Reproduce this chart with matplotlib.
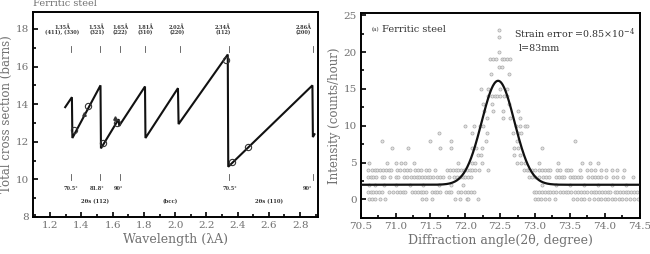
import numpy as np
import matplotlib
matplotlib.use("Agg")
import matplotlib.pyplot as plt
from matplotlib.ticker import MultipleLocator

plt.rcParams['font.family'] = ['DejaVu Serif']
plt.rcParams['mathtext.fontset'] = 'dejavuserif'

# ---------------- left panel data: Bragg-edge sawtooth ----------------
edge_wl = [1.296, 1.339, 1.342, 1.522, 1.525, 1.638, 1.642, 1.807, 1.810,
           2.018, 2.022, 2.337, 2.340, 2.879, 2.882, 2.892]
edge_xs = [13.84, 14.37, 12.20, 15.00, 11.65, 13.20, 12.85, 14.94, 12.20,
           14.85, 12.94, 16.64, 10.67, 15.00, 12.25, 12.40]
meas_wl = [1.352, 1.445, 1.537, 1.630, 2.325, 2.365, 2.465]
meas_xs = [12.60, 13.90, 11.95, 13.00, 16.35, 10.95, 11.70]
small_wl = [1.415, 1.618]
small_xs = [13.50, 13.25]

top_labels = ["1.35Å\n(411), (330)", "1.53Å\n(321)", "1.65Å\n(222)", "1.81Å\n(310)",
              "2.02Å\n(220)", "2.34Å\n(112)", "2.86Å\n(200)"]
top_label_x = [1.275, 1.498, 1.647, 1.810, 2.010, 2.307, 2.820]
top_tick_x = [1.334, 1.520, 1.647, 1.810, 2.030, 2.345, 2.880]

bot_angles = ["70.5°", "81.8°", "90°", "70.5°", "90°"]
bot_tick_x = [1.334, 1.520, 1.647, 2.345, 2.880]
bot_label_x = [1.330, 1.500, 1.640, 2.350, 2.850]
group_labels = ["2θs (112)", "(bcc)", "2θs (110)"]
group_x = [1.490, 1.967, 2.600]

# ---------------- right panel data: diffraction peak ----------------
cnt0 = [70.62, 70.66, 70.70, 70.78, 70.85, 71.38, 71.44, 71.52, 71.85, 71.92, 72.02,
        72.04, 72.18, 73.00, 73.04, 73.08, 73.14, 73.20, 73.28, 73.55, 73.60, 73.66, 73.70,
        73.78, 73.84, 73.90, 73.95, 74.00, 74.05, 74.10, 74.14, 74.20, 74.25,
        74.30, 74.36, 74.42, 74.47]
cnt1 = [70.60, 70.64, 70.68, 70.72, 70.76, 70.80, 70.90, 70.96, 71.02, 71.06, 71.10,
        71.14, 71.24, 71.28, 71.32, 71.36, 71.40, 71.44, 71.52, 71.56, 71.60, 71.64,
        71.72, 71.76, 71.80, 71.90, 71.94, 72.00, 72.04, 72.08, 72.12,
        72.98, 73.02, 73.06, 73.10, 73.14, 73.18, 73.22, 73.26, 73.30, 73.36, 73.40,
        73.44, 73.48, 73.52, 73.58, 73.62, 73.66, 73.70, 73.74, 73.80, 73.84, 73.88,
        73.92, 73.96, 74.00, 74.04, 74.08, 74.14, 74.18, 74.22, 74.26, 74.30, 74.34,
        74.38, 74.42, 74.46]
cnt2 = [70.62, 70.70, 70.84, 71.00, 71.20, 71.40, 71.62, 71.80, 71.96, 73.10,
        73.30, 73.50, 73.70, 73.90, 74.10, 74.30]
cnt3 = [70.60, 70.64, 70.68, 70.72, 70.80, 70.84, 70.92, 71.00, 71.04, 71.12, 71.16,
        71.22, 71.26, 71.30, 71.34, 71.38, 71.42, 71.46, 71.50, 71.54, 71.60, 71.64,
        71.68, 71.76, 71.84, 71.88, 71.92, 71.96, 72.00, 72.04, 72.08,
        72.92, 72.96, 73.00, 73.06, 73.12, 73.16, 73.20, 73.30, 73.34, 73.38, 73.42,
        73.50, 73.54, 73.58, 73.62, 73.66, 73.76, 73.82, 73.86, 73.90, 73.94,
        74.02, 74.12, 74.18, 74.26, 74.40]
cnt4 = [70.60, 70.66, 70.70, 70.74, 70.78, 70.82, 70.86, 70.90, 70.94, 71.02,
        71.06, 71.12, 71.16, 71.20, 71.28, 71.32, 71.36, 71.44, 71.48, 71.56,
        71.74, 71.78, 71.82, 71.86, 71.90, 71.94, 71.98, 72.02, 72.06, 72.10, 72.14,
        72.20, 72.33, 72.84, 72.88, 72.92, 72.96, 73.00, 73.06, 73.10, 73.14, 73.18,
        73.22, 73.32, 73.36, 73.44, 73.48, 73.52, 73.64, 73.74, 73.80, 73.86, 73.94,
        74.02, 74.10, 74.18, 74.28]
cnt5 = [70.62, 70.88, 71.00, 71.08, 71.14, 71.26, 71.90, 72.10, 72.14, 72.24,
        72.74, 72.80, 72.86, 73.05, 73.33, 73.67, 73.79, 73.90]
cnt6 = [72.18, 72.23, 72.70, 72.78]
cnt7 = [70.95, 71.18, 71.64, 71.79, 72.10, 72.16, 72.24, 72.70, 72.76, 73.10]
cnt8 = [70.80, 71.50, 71.80, 72.30, 72.74, 73.57]
cnt9 = [71.62, 72.10, 72.31, 72.69, 72.76, 72.80]
cnt10 = [72.00, 72.12, 72.21, 72.26, 72.72, 72.78, 72.85, 72.88]
cnt11 = [72.31, 72.54, 72.64, 72.78]
cnt12 = [72.27, 72.40, 72.54, 72.75]
cnt13 = [72.25, 72.38, 72.62]
cnt14 = [72.33, 72.38, 72.42, 72.46, 72.50, 72.55, 72.60]
cnt15 = [72.22, 72.32, 72.50, 72.60]
cnt17 = [72.37, 72.62]
cnt18 = [72.48, 72.53]
cnt19 = [72.36, 72.40, 72.44, 72.52, 72.56, 72.60, 72.64]
cnt20 = [72.49]
cnt22 = [72.49]
cnt23 = [72.49]

count_rows = {0: cnt0, 1: cnt1, 2: cnt2, 3: cnt3, 4: cnt4, 5: cnt5, 6: cnt6, 7: cnt7,
              8: cnt8, 9: cnt9, 10: cnt10, 11: cnt11, 12: cnt12, 13: cnt13, 14: cnt14,
              15: cnt15, 17: cnt17, 18: cnt18, 19: cnt19, 20: cnt20, 22: cnt22, 23: cnt23}

# Gaussian fit parameters (background, amplitude, centre, sigma)
fit_bg, fit_amp, fit_mu, fit_sigma = 2.0, 14.1, 72.47, 0.235

# ---------------- figure ----------------
fig = plt.figure(figsize=(6.5, 2.54), dpi=100)
gray = '#707070'

ax1 = fig.add_axes([0.0508, 0.1457, 0.4385, 0.807])
ax1.plot(edge_wl, edge_xs, color='#111111', lw=1.5, solid_joinstyle='miter')
ax1.plot(meas_wl, meas_xs, 'o', ms=4.5, mfc='none', mec='#333333', mew=0.8)
ax1.plot(small_wl, small_xs, '^', ms=2.5, color='#333333')
ax1.set_xlim(1.09, 2.915)
ax1.set_ylim(8, 18.9)
ax1.xaxis.set_major_locator(MultipleLocator(0.2))
ax1.xaxis.set_minor_locator(MultipleLocator(0.1))
ax1.yaxis.set_major_locator(MultipleLocator(2))
ax1.yaxis.set_minor_locator(MultipleLocator(1))
for t, x in zip(top_labels, top_label_x):
    ax1.text(x, 17.95, t, ha='center', va='center', fontsize=3.6, fontweight='bold',
             color='#333333', linespacing=1.0)
for x in top_tick_x:
    ax1.plot([x, x], [16.8, 17.1], color='#555555', lw=0.6)
for t, x in zip(bot_angles, bot_label_x):
    ax1.text(x, 9.5, t, ha='center', va='center', fontsize=3.6, fontweight='bold', color='#333333')
for x in bot_tick_x:
    ax1.plot([x, x], [9.95, 10.3], color='#555555', lw=0.6)
for t, x in zip(group_labels, group_x):
    ax1.text(x, 8.8, t, ha='center', va='center', fontsize=3.8, fontweight='bold', color='#333333')
ax1.set_xlabel('Wavelength (λA)', fontsize=9, color=gray, labelpad=2)
ax1.set_ylabel('Total cross section (barns)', fontsize=8.5, color=gray, labelpad=2)
fig.text(0.0508, 0.985, 'Ferritic steel', fontsize=7, color=gray, ha='left', va='center')

ax2 = fig.add_axes([0.555, 0.142, 0.429, 0.807])
xs, ys = [], []
for lvl, row in count_rows.items():
    xs.extend(row)
    ys.extend([lvl] * len(row))
ax2.scatter(xs, ys, s=5, facecolors='#e4e4e4', edgecolors='#a8a8a8', linewidths=0.5, zorder=2)
xf = np.linspace(70.5, 74.5, 600)
ax2.plot(xf, fit_bg + fit_amp * np.exp(-0.5 * ((xf - fit_mu) / fit_sigma) ** 2),
         color='#111111', lw=1.6, zorder=3)
ax2.set_xlim(70.5, 74.5)
ax2.set_ylim(-2.5, 25.3)
ax2.xaxis.set_major_locator(MultipleLocator(0.5))
ax2.xaxis.set_minor_locator(MultipleLocator(0.25))
ax2.yaxis.set_major_locator(MultipleLocator(5))
ax2.yaxis.set_minor_locator(MultipleLocator(2.5))
ax2.text(70.65, 23.0, '(a)', fontsize=4, color='#333333', va='center')
ax2.text(70.8, 23.0, 'Ferritic steel', fontsize=7, color='#333333', va='center')
ax2.text(72.7, 22.5, 'Strain error =0.85×10$^{-4}$', fontsize=6.8, color='#333333',
         va='center', clip_on=True)
ax2.text(72.76, 20.5, 'l=83mm', fontsize=6.8, color='#333333', va='center')
ax2.set_xlabel('Diffraction angle(2θ, degree)', fontsize=9, color=gray, labelpad=2)
ax2.set_ylabel('Intensity (counts/hour)', fontsize=8.5, color=gray, labelpad=2)

for ax in (ax1, ax2):
    for sp in ax.spines.values():
        sp.set_linewidth(1.4)
    ax.tick_params(which='both', direction='in', width=1.2, colors='black',
                   labelcolor=gray, labelsize=7.5, pad=3)
    ax.tick_params(which='major', length=3.5)
    ax.tick_params(which='minor', length=2)
    ax.tick_params(top=False, right=False)

fig.savefig('out.png', dpi=100)
